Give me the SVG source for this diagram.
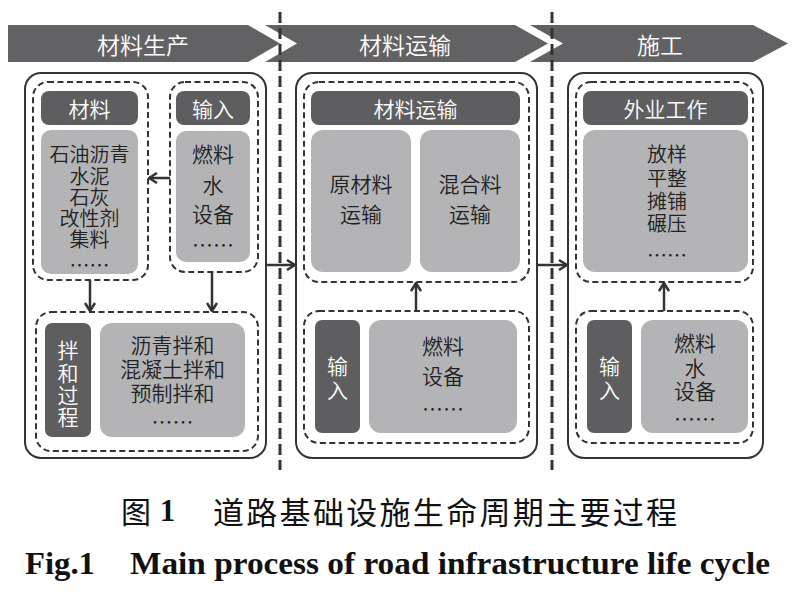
<svg xmlns="http://www.w3.org/2000/svg" width="800" height="606" viewBox="0 0 800 606">
<defs>
<style>
.bn{fill:#626264}
.dk{fill:#5e5e60}
.lt{fill:#b4b4b6}
.outer{fill:none;stroke:#333;stroke-width:2}
.dash{fill:none;stroke:#333;stroke-width:2;stroke-dasharray:6 3.5}
.sep{stroke:#333;stroke-width:3;stroke-dasharray:11 5}
.ar{stroke:#333;stroke-width:2.5;fill:none;marker-end:url(#ah)}
text{font-family:"Noto Sans CJK SC","Noto Sans",sans-serif;font-weight:350;text-anchor:middle;dominant-baseline:central}
.w{fill:#fff;font-size:21px}
.b{fill:#fff;font-size:23px}
.t{fill:#222;font-size:21px}
.s{fill:#222;font-size:20px}
.cap{font-weight:400;fill:#111}
.en{font-family:"Liberation Serif","Times New Roman",serif;font-weight:bold;fill:#111}
</style>
<marker id="ah" viewBox="0 0 10 12" markerWidth="10" markerHeight="12" refX="9" refY="6" orient="auto" markerUnits="userSpaceOnUse">
<path d="M1,1 L9,6 L1,11" fill="none" stroke="#333" stroke-width="2.5"/>
</marker>
</defs>
<rect width="800" height="606" fill="#fff"/>

<g id="banner">
<polygon class="bn" points="8,25 248,25 280,43.5 248,62 8,62"/>
<polygon class="bn" points="265,25 515,25 548,43.5 515,62 265,62 297,43.5"/>
<polygon class="bn" points="530,25 753,25 788,43.5 753,62 530,62 563,43.5"/>
<text class="b" x="143" y="43.5">材料生产</text>
<text class="b" x="405" y="43.5">材料运输</text>
<text class="b" x="660" y="43.5">施工</text>
</g>

<g id="separators">
<line class="sep" x1="280" y1="12" x2="280" y2="470"/>
<line class="sep" x1="552" y1="12" x2="552" y2="470"/>
</g>

<g id="panel-production">
<rect class="outer" x="25" y="73" width="241" height="385" rx="16"/>
<g id="materials">
<rect class="dash" x="33" y="82" width="115" height="198" rx="15"/>
<rect class="dk" x="41" y="91" width="97" height="34" rx="8"/>
<text class="w" x="89.5" y="108">材料</text>
<rect class="lt" x="41" y="130" width="97" height="144" rx="10"/>
<text class="s"><tspan x="89.5" y="153">石油沥青</tspan><tspan x="89.5" y="175">水泥</tspan><tspan x="89.5" y="196">石灰</tspan><tspan x="89.5" y="217">改性剂</tspan><tspan x="89.5" y="238">集料</tspan><tspan x="89.5" y="264">……</tspan></text>
</g>
<g id="input1">
<rect class="dash" x="170" y="82" width="88" height="190" rx="15"/>
<rect class="dk" x="176" y="91" width="74" height="34" rx="8"/>
<text class="w" x="213" y="108">输入</text>
<rect class="lt" x="176" y="131" width="74" height="131" rx="10"/>
<text class="t"><tspan x="213" y="153">燃料</tspan><tspan x="213" y="184">水</tspan><tspan x="213" y="213">设备</tspan><tspan x="213" y="244">……</tspan></text>
</g>
<g id="mixing">
<rect class="dash" x="36" y="312" width="222" height="139" rx="15"/>
<rect class="dk" x="45" y="323" width="46" height="114" rx="7"/>
<text class="w"><tspan x="68" y="349">拌</tspan><tspan x="68" y="372">和</tspan><tspan x="68" y="394">过</tspan><tspan x="68" y="416">程</tspan></text>
<rect class="lt" x="100" y="323" width="145" height="114" rx="12"/>
<text class="t"><tspan x="172.5" y="344">沥青拌和</tspan><tspan x="172.5" y="368">混凝土拌和</tspan><tspan x="172.5" y="392">预制拌和</tspan><tspan x="172.5" y="421">……</tspan></text>
</g>
</g>

<g id="panel-transport">
<rect class="outer" x="296" y="73" width="241" height="385" rx="16"/>
<g id="transport">
<rect class="dash" x="304" y="82" width="225" height="200" rx="15"/>
<rect class="dk" x="311" y="91" width="209" height="34" rx="8"/>
<text class="w" x="415.5" y="108">材料运输</text>
<rect class="lt" x="311" y="130" width="100" height="142" rx="12"/>
<text class="t"><tspan x="361" y="183">原材料</tspan><tspan x="361" y="213">运输</tspan></text>
<rect class="lt" x="420" y="130" width="100" height="142" rx="12"/>
<text class="t"><tspan x="470" y="183">混合料</tspan><tspan x="470" y="213">运输</tspan></text>
</g>
<g id="input2">
<rect class="dash" x="304" y="311" width="225" height="132" rx="15"/>
<rect class="dk" x="315" y="320" width="45" height="113" rx="7"/>
<text class="w"><tspan x="337.5" y="365">输</tspan><tspan x="337.5" y="389">入</tspan></text>
<rect class="lt" x="369" y="320" width="148" height="113" rx="12"/>
<text class="t"><tspan x="443" y="345">燃料</tspan><tspan x="443" y="375">设备</tspan><tspan x="443" y="408">……</tspan></text>
</g>
</g>

<g id="panel-construction">
<rect class="outer" x="568" y="73" width="195" height="385" rx="16"/>
<g id="fieldwork">
<rect class="dash" x="576" y="82" width="177" height="200" rx="15"/>
<rect class="dk" x="583" y="91" width="165" height="34" rx="8"/>
<text class="w" x="665.5" y="108">外业工作</text>
<rect class="lt" x="583" y="130" width="165" height="142" rx="12"/>
<text class="s"><tspan x="667" y="153">放样</tspan><tspan x="667" y="177">平整</tspan><tspan x="667" y="200">摊铺</tspan><tspan x="667" y="222">碾压</tspan><tspan x="667" y="254">……</tspan></text>
</g>
<g id="input3">
<rect class="dash" x="576" y="311" width="177" height="132" rx="15"/>
<rect class="dk" x="587" y="320" width="45" height="113" rx="7"/>
<text class="w"><tspan x="609.5" y="365">输</tspan><tspan x="609.5" y="389">入</tspan></text>
<rect class="lt" x="641" y="320" width="107" height="113" rx="12"/>
<text class="t"><tspan x="695" y="342">燃料</tspan><tspan x="695" y="367">水</tspan><tspan x="695" y="390">设备</tspan><tspan x="695" y="418">……</tspan></text>
</g>
</g>

<g id="connectors">
<line class="ar" x1="170" y1="178" x2="149" y2="178"/>
<line class="ar" x1="90" y1="280" x2="90" y2="311"/>
<line class="ar" x1="212" y1="272" x2="212" y2="311"/>
<line class="ar" x1="266" y1="265" x2="295" y2="265"/>
<line class="ar" x1="537" y1="265" x2="567" y2="265"/>
<line class="ar" x1="416" y1="311" x2="416" y2="283"/>
<line class="ar" x1="664" y1="311" x2="664" y2="283"/>
</g>

<g id="caption">
<text class="cap" x="136" y="510" style="font-size:30px">图</text>
<text class="en" x="167.5" y="510" style="font-size:31px">1</text>
<text class="cap" x="445" y="510" textLength="464" lengthAdjust="spacing" style="font-size:31px">道路基础设施生命周期主要过程</text>
<text class="en" x="60" y="563" textLength="70" lengthAdjust="spacingAndGlyphs" style="font-size:31px">Fig.1</text>
<text class="en" x="450" y="563" textLength="640" lengthAdjust="spacingAndGlyphs" style="font-size:31px">Main process of road infrastructure life cycle</text>
</g>
</svg>
